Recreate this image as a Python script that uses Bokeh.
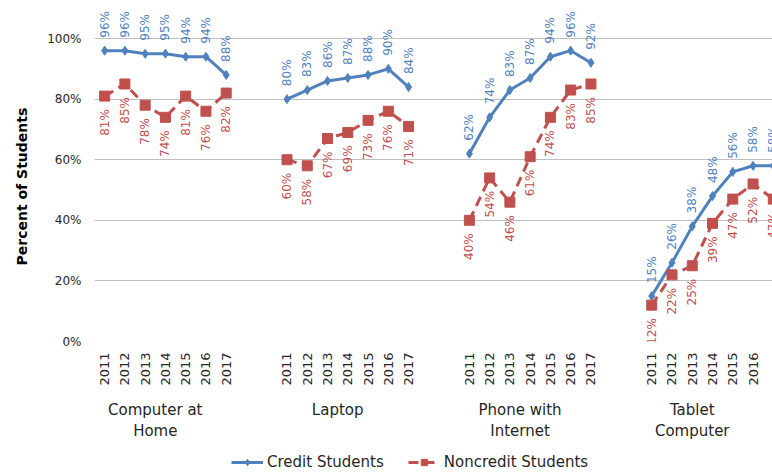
import numpy as np
from bokeh.plotting import figure
from bokeh.layouts import column
from bokeh.models import (Range1d, FixedTicker, LinearAxis, Legend, LegendItem,
                          Title)
from bokeh.embed import file_html
from bokeh.resources import INLINE
from bokeh.core.properties import value

# ---------------- data ----------------
years = ["2011", "2012", "2013", "2014", "2015", "2016", "2017"]
groups = ["Computer at\nHome", "Laptop", "Phone with\nInternet", "Tablet\nComputer"]

credit_computer = [96, 96, 95, 95, 94, 94, 88]
credit_laptop = [80, 83, 86, 87, 88, 90, 84]
credit_phone = [62, 74, 83, 87, 94, 96, 92]
credit_tablet = [15, 26, 38, 48, 56, 58, 58]

noncredit_computer = [81, 85, 78, 74, 81, 76, 82]
noncredit_laptop = [60, 58, 67, 69, 73, 76, 71]
noncredit_phone = [40, 54, 46, 61, 74, 83, 85]
noncredit_tablet = [12, 22, 25, 39, 47, 52, 47]

y_ticks = [0, 20, 40, 60, 80, 100]

credit_series = [credit_computer, credit_laptop, credit_phone, credit_tablet]
noncredit_series = [noncredit_computer, noncredit_laptop, noncredit_phone, noncredit_tablet]

# ---------------- layout helpers ----------------
GROUP_STEP = 9  # 7 years + 2 blank slots
BLUE = "#4F81BD"
RED = "#C0504D"
TEXT = "#262626"
FONT = "DejaVu Sans"
MAIN_H = 444
LEG_H = 28

def build(series):
    xs, ys, lx, ly, lt = [], [], [], [], []
    for g, vals in enumerate(series):
        for i, v in enumerate(vals):
            xs.append(g * GROUP_STEP + i)
            ys.append(v)
            lx.append(g * GROUP_STEP + i)
            ly.append(v)
            lt.append(f"{v}%")
        xs.append(np.nan)
        ys.append(np.nan)
    return xs, ys, lx, ly, lt

cx, cy, clx, cly, clt = build(credit_series)
nx, ny, nlx, nly, nlt = build(noncredit_series)

p = figure(width=772, height=MAIN_H,
           x_range=Range1d(-0.5, 32.96), y_range=Range1d(0, 111.9),
           output_backend="svg", toolbar_location=None,
           x_axis_location=None,
           min_border_left=94, min_border_right=0,
           min_border_top=2, min_border_bottom=MAIN_H - 341)
p.outline_line_color = None
p.background_fill_color = "white"
p.border_fill_color = "white"

# y axis
p.yaxis.ticker = FixedTicker(ticks=y_ticks)
p.yaxis.major_label_overrides = {t: f"{t}%" for t in y_ticks}
p.yaxis.axis_line_color = None
p.yaxis.major_tick_line_color = None
p.yaxis.minor_tick_line_color = None
p.yaxis.major_label_standoff = 7
p.yaxis.major_label_text_font = FONT
p.yaxis.major_label_text_font_size = "12px"
p.yaxis.major_label_text_color = TEXT

p.add_layout(Title(text="Percent of Students", align="left", offset=76,
                   standoff=26, vertical_align="top", text_font=FONT,
                   text_font_style="bold", text_font_size="14px",
                   text_color="black"), "left")

p.ygrid.ticker = FixedTicker(ticks=y_ticks)
p.ygrid.grid_line_color = "#BFBFBF"
p.ygrid.grid_line_width = 1
p.xgrid.visible = False

# year axis
year_ticks = [g * GROUP_STEP + i for g in range(len(groups)) for i in range(len(years))]
year_axis = LinearAxis(ticker=FixedTicker(ticks=year_ticks),
                       major_label_overrides={t: years[t % GROUP_STEP] for t in year_ticks},
                       major_label_orientation=np.pi / 2,
                       axis_line_color=None, major_tick_line_color=None,
                       minor_tick_line_color=None, major_label_standoff=5,
                       major_label_text_font=FONT, major_label_text_font_size="13px",
                       major_label_text_color=TEXT)
p.add_layout(year_axis, "below")

# group axis
group_pos = [2.5, 11.5, 20.5, 29.0]
group_axis = LinearAxis(ticker=FixedTicker(ticks=group_pos),
                        major_label_overrides={t: groups[i] for i, t in enumerate(group_pos)},
                        axis_line_color=None, major_tick_line_color=None,
                        minor_tick_line_color=None, major_label_standoff=6,
                        major_label_text_font=FONT, major_label_text_font_size="15px",
                        major_label_text_color=TEXT)
p.add_layout(group_axis, "below")

# series
cl = p.line(cx, cy, line_color=BLUE, line_width=3)
cs = p.scatter(clx, cly, marker="diamond", size=9, fill_color=BLUE, line_color=BLUE)
nl = p.line(nx, ny, line_color=RED, line_width=3, line_dash="10 6")
ns = p.scatter(nlx, nly, marker="square", size=10, fill_color=RED, line_color=RED)

# data labels
p.text(x=clx, y=cly, text=clt, angle=np.pi / 2, text_align="left",
       text_baseline="middle", y_offset=-13, text_font=value(FONT),
       text_font_size="12px", text_color=BLUE)
p.text(x=nlx, y=nly, text=nlt, angle=np.pi / 2, text_align="right",
       text_baseline="middle", y_offset=13, text_font=value(FONT),
       text_font_size="12px", text_color=RED)

# ---------------- legend strip ----------------
lf = figure(width=772, height=LEG_H, x_range=Range1d(0, 1), y_range=Range1d(0, 1),
            output_backend="svg", toolbar_location=None,
            x_axis_location=None, y_axis_location=None,
            min_border=0)
lf.outline_line_color = None
lf.xgrid.visible = False
lf.ygrid.visible = False
# legend-only renderers, kept outside the visible range
off = [5, 6]
lcl = lf.line(off, off, line_color=BLUE, line_width=3)
lcs = lf.scatter(off, off, marker="diamond", size=9, fill_color=BLUE, line_color=BLUE)
lnl = lf.line(off, off, line_color=RED, line_width=3, line_dash="10 6")
lns = lf.scatter(off, off, marker="square", size=10, fill_color=RED, line_color=RED)

legend = Legend(items=[LegendItem(label="Credit Students", renderers=[lcl, lcs]),
                       LegendItem(label="Noncredit Students", renderers=[lnl, lns])],
                orientation="horizontal", location=(137, 1),
                border_line_color=None, background_fill_alpha=0,
                label_text_font=FONT, label_text_font_size="15px",
                label_text_color=TEXT, glyph_width=32, glyph_height=16,
                spacing=24, padding=1, margin=0, label_standoff=4)
lf.add_layout(legend, "center")

layout = column(p, lf, spacing=0)
open("out.html", "w").write(file_html(layout, INLINE))
